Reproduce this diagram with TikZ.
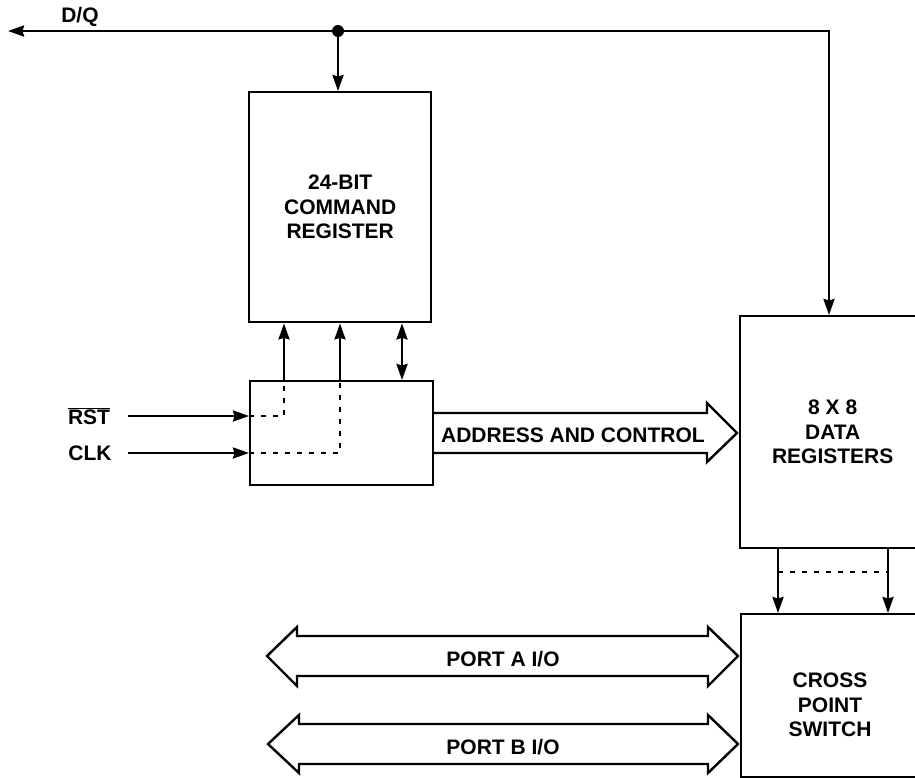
\documentclass[tikz,border=0pt]{standalone}
\usepackage{fontspec}
\setmainfont{Liberation Sans}
\usetikzlibrary{arrows.meta}
\begin{document}
\begin{tikzpicture}[x=1pt,y=-1pt,line width=2.4pt,
  blk/.style={draw,rectangle,inner sep=0pt,anchor=north west},
  lbl/.style={font=\fontsize{21}{24.5}\selectfont\bfseries,align=center,inner sep=0pt},
  arr/.style={-{Stealth[length=16pt,width=11pt,inset=1.5pt]}},
  darr/.style={{Stealth[length=16pt,width=11pt,inset=1.5pt]}-{Stealth[length=16pt,width=11pt,inset=1.5pt]}},
  dsh/.style={dash pattern=on 5pt off 7pt},
  dotnode/.style={circle,fill,inner sep=0pt,minimum size=12pt}]
\useasboundingbox (0,0) rectangle (915,777);
\clip (0,0) rectangle (915,777);

% blocks
\node[blk,minimum width=182pt,minimum height=230pt,lbl] (cmd) at (248,91) {24-BIT\\COMMAND\\REGISTER};
\node[blk,minimum width=183pt,minimum height=104pt] (ctl) at (249,380) {};
\node[blk,minimum width=185pt,minimum height=232pt,lbl] (data) at (739,315) {8 X 8\\DATA\\REGISTERS};
\node[blk,minimum width=185pt,minimum height=163pt] (cross) at (740,613) {};
\node[lbl] (crosstxt) at (830,705) {CROSS\\POINT\\SWITCH};

% D/Q bus
\node[dotnode] (j) at (338,31) {};
\coordinate (dqL) at (8,31);
\coordinate (turn) at (829,31);
\node[lbl] (dq) at (80,17) {D/Q};
\draw[arr] (j.center) -- (dqL);
\draw[arr] (j.center) -- (turn) -- (data.north -| turn);
\draw[arr] (j.center) -- (cmd.north -| j);

% control -> command
\coordinate (x1) at (284,0);
\coordinate (x2) at (340,0);
\coordinate (x3) at (402,0);
\draw[arr] (ctl.north -| x1) -- (cmd.south -| x1);
\draw[arr] (ctl.north -| x2) -- (cmd.south -| x2);
\draw[darr] (ctl.north -| x3) -- (cmd.south -| x3);

% RST / CLK
\node[lbl] (rst) at (89,416) {$\overline{\mbox{RST}}$};
\node[lbl] (clk) at (90,453) {CLK};
\coordinate (rstS) at (128,416);
\coordinate (clkS) at (128,453);
\draw[arr] (rstS) -- (ctl.west |- rstS);
\draw[arr] (clkS) -- (ctl.west |- clkS);
\draw[dsh] (ctl.west |- rstS) -- (x1 |- rstS) -- (ctl.north -| x1);
\draw[dsh] (ctl.west |- clkS) -- (x2 |- clkS) -- (ctl.north -| x2);

% address and control arrow
\draw[line join=miter] (433,413) -- (707,413) -- (707,403) -- (737,433) -- (707,462) -- (707,453) -- (433,453);
\node[lbl] (addr) at (573,435) {ADDRESS AND CONTROL};

% data -> cross point
\coordinate (x4) at (778,0);
\coordinate (x5) at (888,0);
\coordinate (dy) at (0,572);
\draw[arr] (data.south -| x4) -- (cross.north -| x4);
\draw[arr] (data.south -| x5) -- (cross.north -| x5);
\draw[dsh] (x4 |- dy) -- (x5 |- dy);

% ports
\draw[line join=miter] (267,656) -- (297,627) -- (297,636) -- (708,636) -- (708,627) -- (738,656) -- (708,686) -- (708,676) -- (297,676) -- (297,686) -- cycle;
\node[lbl] (pa) at (503,659) {PORT A I/O};
\draw[line join=miter] (268,744) -- (299,715) -- (299,724) -- (708,724) -- (708,715) -- (738,744) -- (708,773) -- (708,764) -- (299,764) -- (299,773) -- cycle;
\node[lbl] (pb) at (503,747) {PORT B I/O};
\end{tikzpicture}
\end{document}
